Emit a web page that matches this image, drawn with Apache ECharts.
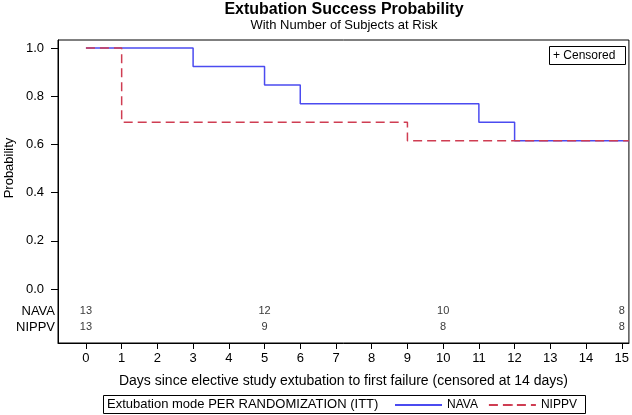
<!DOCTYPE html>
<html>
<head>
<meta charset="utf-8">
<script src="https://cdn.jsdelivr.net/npm/echarts@6/dist/echarts.min.js"></script>
<style>
html,body{margin:0;padding:0;background:#fff;}
#c{width:632px;height:415px;}
</style>
</head>
<body>
<div id="c"></div>
<script>
// ---- data ----
var groupNames = ['NAVA', 'NIPPV'];
var navaTimes = [0, 3, 5, 6, 11, 12, 15.2];
var navaSurv = [1.0, 0.923, 0.846, 0.769, 0.692, 0.615, 0.615];
var nippvTimes = [0, 1, 9, 15.2];
var nippvSurv = [1.0, 0.692, 0.615, 0.615];
var riskTimes = [0, 5, 10, 15];
var navaAtRisk = [13, 12, 10, 8];
var nippvAtRisk = [13, 9, 8, 8];
var xTicks = [0, 1, 2, 3, 4, 5, 6, 7, 8, 9, 10, 11, 12, 13, 14, 15];
var yTicks = [0, 0.2, 0.4, 0.6, 0.8, 1.0];

var titleText = 'Extubation Success Probability';
var subTitleText = 'With Number of Subjects at Risk';
var xName = 'Days since elective study extubation to first failure (censored at 14 days)';
var yName = 'Probability';
var legendTitle = 'Extubation mode PER RANDOMIZATION (ITT)';
var censoredText = '+ Censored';

// ---- layout / style ----
var FONT = 'Liberation Sans, Arial, sans-serif';
var BLUE = '#4b4bf0';
var RED = '#cf3d52';
var rowY = [-0.091, -0.158];

function pairs(xs, ys) { return xs.map(function (x, i) { return [x, ys[i]]; }); }
function riskData(vals, y) { return riskTimes.map(function (t, i) { return [t, y, vals[i]]; }); }

var chart = echarts.init(document.getElementById('c'), null, { renderer: 'canvas' });

var riskLabel = {
  show: true, position: 'inside', fontFamily: FONT, fontSize: 11, color: '#000',
  formatter: function (p) { return String(p.value[2]); }
};

var option = {
  animation: false,
  backgroundColor: '#fff',
  textStyle: { fontFamily: FONT },
  grid: {
    left: 58, right: 2, top: 40, bottom: 72,
    show: true, borderColor: '#000', borderWidth: 1, backgroundColor: 'transparent'
  },
  xAxis: {
    type: 'value', min: -0.782, max: 15.2,
    name: xName, nameLocation: 'middle', nameGap: 31,
    nameTextStyle: { fontFamily: FONT, fontSize: 14, color: '#000' },
    axisLine: { onZero: false, lineStyle: { color: '#000', width: 1 } },
    axisTick: { show: true, customValues: xTicks, length: 6, lineStyle: { color: '#000' } },
    axisLabel: { customValues: xTicks, fontFamily: FONT, fontSize: 13, color: '#000', margin: 9 },
    splitLine: { show: false }
  },
  yAxis: {
    type: 'value', min: -0.224, max: 1.033,
    axisLine: { show: true, onZero: false, lineStyle: { color: '#000', width: 1 } },
    axisTick: { show: true, customValues: yTicks, length: 7, lineStyle: { color: '#000' } },
    axisLabel: {
      customValues: yTicks, fontFamily: FONT, fontSize: 13, color: '#000', margin: 14,
      formatter: function (v) { return v.toFixed(1); }
    },
    splitLine: { show: false }
  },
  legend: {
    data: groupNames,
    left: 394, top: 399,
    itemWidth: 47, itemHeight: 2, itemGap: 10,
    textStyle: { fontFamily: FONT, fontSize: 12, color: '#000' },
    padding: 0
  },
  series: [
    {
      name: groupNames[0], type: 'line', step: 'end', showSymbol: false, symbol: 'none',
      data: pairs(navaTimes, navaSurv),
      lineStyle: { color: BLUE, width: 1.5 }, itemStyle: { color: BLUE }, z: 2
    },
    {
      name: groupNames[1], type: 'line', step: 'end', showSymbol: false, symbol: 'none',
      data: pairs(nippvTimes, nippvSurv),
      lineStyle: { color: RED, width: 1.5, type: [9, 5] }, itemStyle: { color: RED }, z: 3
    },
    {
      name: 'risk-' + groupNames[0], type: 'scatter', symbolSize: 0, silent: true,
      data: riskData(navaAtRisk, rowY[0]), label: riskLabel
    },
    {
      name: 'risk-' + groupNames[1], type: 'scatter', symbolSize: 0, silent: true,
      data: riskData(nippvAtRisk, rowY[1]), label: riskLabel
    }
  ],
  graphic: [
    { type: 'text', position: [344, 2], style: { text: titleText, font: 'bold 16px ' + FONT, fill: '#000', textAlign: 'center' } },
    { type: 'text', position: [344, 19], style: { text: subTitleText, font: '13px ' + FONT, fill: '#000', textAlign: 'center' } },
    { type: 'text', position: [9, 168], rotation: Math.PI / 2, style: { text: yName, font: '13px ' + FONT, fill: '#000', textAlign: 'center', textVerticalAlign: 'middle' } },
    { type: 'text', position: [55, 311], style: { text: groupNames[0], font: '13px ' + FONT, fill: '#000', textAlign: 'right', textVerticalAlign: 'middle' } },
    { type: 'text', position: [55, 327], style: { text: groupNames[1], font: '13px ' + FONT, fill: '#000', textAlign: 'right', textVerticalAlign: 'middle' } },
    { type: 'rect', shape: { x: 549.5, y: 46.5, width: 76, height: 18 }, style: { fill: '#fff', stroke: '#000', lineWidth: 1 }, z: 10 },
    { type: 'text', position: [553, 56], style: { text: censoredText, font: '12px ' + FONT, fill: '#000', textVerticalAlign: 'middle' }, z: 11 },
    { type: 'rect', shape: { x: 103.5, y: 395.5, width: 482, height: 18 }, style: { fill: 'transparent', stroke: '#000', lineWidth: 1 }, z: 10 },
    { type: 'text', position: [107, 404.5], style: { text: legendTitle, font: '13px ' + FONT, fill: '#000', textVerticalAlign: 'middle' }, z: 11 }
  ]
};
chart.setOption(option);
</script>
</body>
</html>
